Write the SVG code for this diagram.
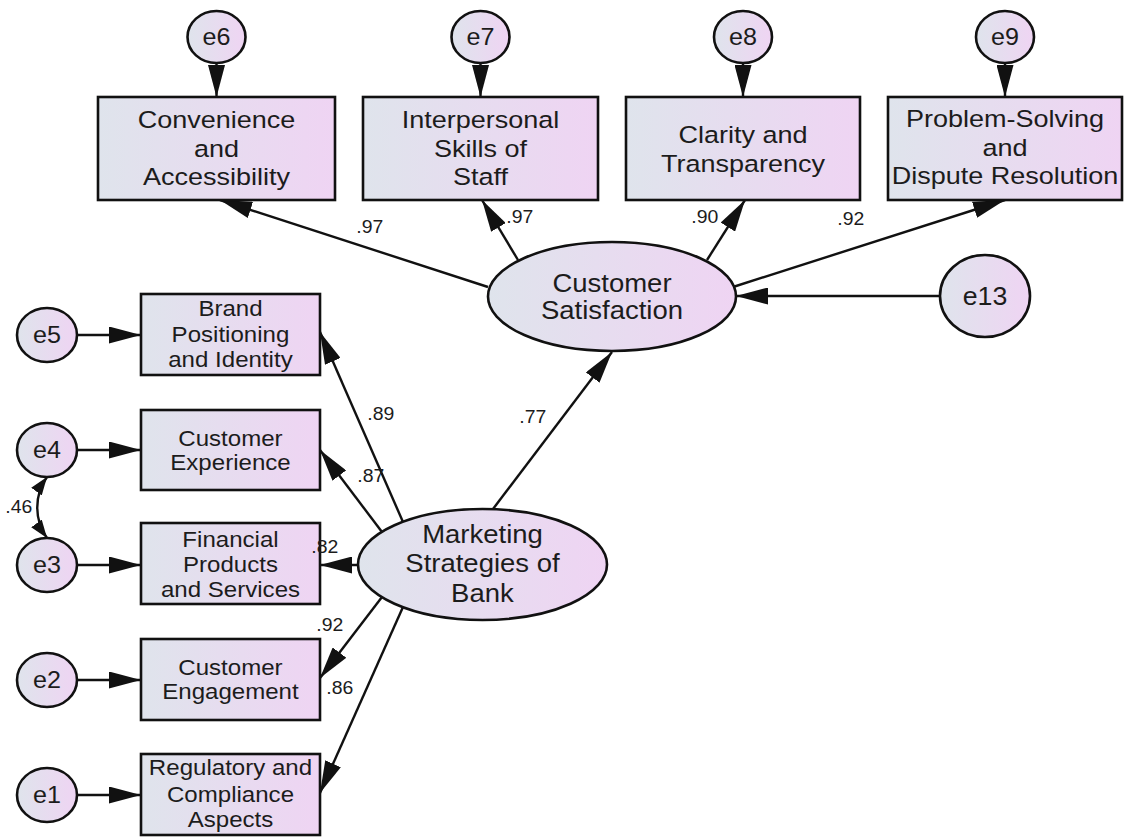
<svg xmlns="http://www.w3.org/2000/svg" width="1125" height="839" viewBox="0 0 1125 839">
<style>
text{font-family:"Liberation Sans",Arial,sans-serif;fill:#1c1c1c;transform-box:fill-box;transform-origin:center}
.node{fill:url(#g);stroke:#111;stroke-width:2.6}
.tb{font-size:23.5px;text-anchor:middle;transform:scaleX(1.15)}
.lb{font-size:21.5px;text-anchor:middle;transform:scaleX(1.12)}
.el{font-size:25px;text-anchor:middle;transform:scaleX(1.1)}
.er{font-size:23.5px;text-anchor:middle;transform:scaleX(1.07)}
.pl{font-size:18.5px;transform:scaleX(1.05)}
.c{fill:none;stroke:#111;stroke-width:2.4}
.a{marker-end:url(#ah)}
</style>
<defs>
<linearGradient id="g" x1="0" y1="0" x2="1" y2="0">
<stop offset="0" stop-color="#dfe4ec"/>
<stop offset="1" stop-color="#efd4f3"/>
</linearGradient>
<marker id="ah" markerUnits="userSpaceOnUse" markerWidth="32" markerHeight="17" refX="32" refY="8.5" orient="auto">
<path d="M0,0 L32,8.5 L0,17 z" fill="#111"/>
</marker>
<marker id="sh" markerUnits="userSpaceOnUse" markerWidth="18" markerHeight="13" refX="18" refY="6.5" orient="auto-start-reverse">
<path d="M0,0 L18,6.5 L0,13 z" fill="#111"/>
</marker>
</defs>
<rect width="1125" height="839" fill="#fff"/>

<g id="connectors">
<line class="c a" x1="216.5" y1="63" x2="216.5" y2="97"/>
<line class="c a" x1="480.5" y1="63" x2="480.5" y2="97"/>
<line class="c a" x1="743" y1="63" x2="743" y2="97"/>
<line class="c a" x1="1005" y1="63" x2="1005" y2="97"/>
<line class="c a" x1="488" y1="287" x2="220" y2="200"/>
<line class="c a" x1="518" y1="260" x2="482" y2="200"/>
<line class="c a" x1="707" y1="260" x2="745" y2="200"/>
<line class="c a" x1="733" y1="287" x2="1005" y2="200"/>
<line class="c a" x1="940" y1="296" x2="736" y2="296"/>
<line class="c a" x1="493" y1="509" x2="612" y2="352"/>
<line class="c a" x1="403" y1="522" x2="320" y2="332"/>
<line class="c a" x1="382" y1="532" x2="320" y2="450"/>
<line class="c a" x1="358" y1="565" x2="320" y2="565"/>
<line class="c a" x1="382" y1="597" x2="320" y2="678"/>
<line class="c a" x1="403" y1="607" x2="320" y2="793"/>
<line class="c a" x1="77" y1="335" x2="141" y2="335"/>
<line class="c a" x1="77" y1="450" x2="141" y2="450"/>
<line class="c a" x1="77" y1="565" x2="141" y2="565"/>
<line class="c a" x1="77" y1="680" x2="141" y2="680"/>
<line class="c a" x1="77" y1="795" x2="141" y2="795"/>
<path class="c" d="M47,477 C34,495 34,520 47,538" marker-start="url(#sh)" marker-end="url(#sh)"/>
</g>

<g id="e6"><ellipse class="node" cx="216.5" cy="37" rx="29" ry="26"/><text class="er" x="216.5" y="45">e6</text></g>
<g id="e7"><ellipse class="node" cx="480.5" cy="37" rx="29" ry="26"/><text class="er" x="480.5" y="45">e7</text></g>
<g id="e8"><ellipse class="node" cx="743" cy="37" rx="29" ry="26"/><text class="er" x="743" y="45">e8</text></g>
<g id="e9"><ellipse class="node" cx="1005" cy="37" rx="29" ry="26"/><text class="er" x="1005" y="45">e9</text></g>

<g id="convenience"><rect class="node" x="98" y="97" width="237" height="103"/>
<text class="tb" x="216.5" y="128">Convenience</text><text class="tb" x="216.5" y="157">and</text><text class="tb" x="216.5" y="185">Accessibility</text></g>
<g id="interpersonal"><rect class="node" x="363" y="97" width="235" height="103"/>
<text class="tb" x="480.5" y="128">Interpersonal</text><text class="tb" x="480.5" y="157">Skills of</text><text class="tb" x="480.5" y="185">Staff</text></g>
<g id="clarity"><rect class="node" x="626" y="97" width="234" height="103"/>
<text class="tb" x="743" y="143">Clarity and</text><text class="tb" x="743" y="172">Transparency</text></g>
<g id="problem"><rect class="node" x="888" y="97" width="234" height="103"/>
<text class="tb" x="1005" y="127">Problem-Solving</text><text class="tb" x="1005" y="156">and</text><text class="tb" x="1005" y="184">Dispute Resolution</text></g>

<g id="customer-satisfaction"><ellipse class="node" cx="612" cy="296.5" rx="124" ry="54.5"/>
<text class="el" x="612" y="292">Customer</text><text class="el" x="612" y="319">Satisfaction</text></g>
<g id="e13"><ellipse class="node" cx="985" cy="296" rx="45" ry="41"/><text class="er" x="985" y="305" style="font-size:25px">e13</text></g>
<g id="marketing"><ellipse class="node" cx="482.5" cy="564.5" rx="124.5" ry="55.5"/>
<text class="el" x="482.5" y="543">Marketing</text><text class="el" x="482.5" y="572">Strategies of</text><text class="el" x="482.5" y="602">Bank</text></g>

<g id="brand"><rect class="node" x="141" y="294" width="179" height="81"/>
<text class="lb" x="230.5" y="316">Brand</text><text class="lb" x="230.5" y="342">Positioning</text><text class="lb" x="230.5" y="367">and Identity</text></g>
<g id="experience"><rect class="node" x="141" y="410" width="179" height="80"/>
<text class="lb" x="230.5" y="446">Customer</text><text class="lb" x="230.5" y="470">Experience</text></g>
<g id="financial"><rect class="node" x="141" y="523" width="179" height="81"/>
<text class="lb" x="230.5" y="547">Financial</text><text class="lb" x="230.5" y="572">Products</text><text class="lb" x="230.5" y="597">and Services</text></g>
<g id="engagement"><rect class="node" x="141" y="639" width="179" height="81"/>
<text class="lb" x="230.5" y="675">Customer</text><text class="lb" x="230.5" y="699">Engagement</text></g>
<g id="regulatory"><rect class="node" x="141" y="754" width="179" height="81"/>
<text class="lb" x="230.5" y="775">Regulatory and</text><text class="lb" x="230.5" y="802">Compliance</text><text class="lb" x="230.5" y="827">Aspects</text></g>

<g id="e5"><ellipse class="node" cx="47" cy="335" rx="30" ry="27"/><text class="er" x="47" y="343">e5</text></g>
<g id="e4"><ellipse class="node" cx="47" cy="450" rx="30" ry="27"/><text class="er" x="47" y="458">e4</text></g>
<g id="e3"><ellipse class="node" cx="47" cy="565" rx="30" ry="27"/><text class="er" x="47" y="573">e3</text></g>
<g id="e2"><ellipse class="node" cx="47" cy="680" rx="30" ry="27"/><text class="er" x="47" y="688">e2</text></g>
<g id="e1"><ellipse class="node" cx="47" cy="795" rx="30" ry="27"/><text class="er" x="47" y="803">e1</text></g>

<g id="connector-labels">
<text class="pl" x="357" y="233">.97</text>
<text class="pl" x="507" y="223">.97</text>
<text class="pl" x="692" y="223">.90</text>
<text class="pl" x="838" y="225">.92</text>
<text class="pl" x="520" y="423">.77</text>
<text class="pl" x="368" y="420">.89</text>
<text class="pl" x="358" y="482">.87</text>
<text class="pl" x="312" y="553">.82</text>
<text class="pl" x="317" y="631">.92</text>
<text class="pl" x="327" y="694">.86</text>
<text class="pl" x="6" y="513">.46</text>
</g>
</svg>
